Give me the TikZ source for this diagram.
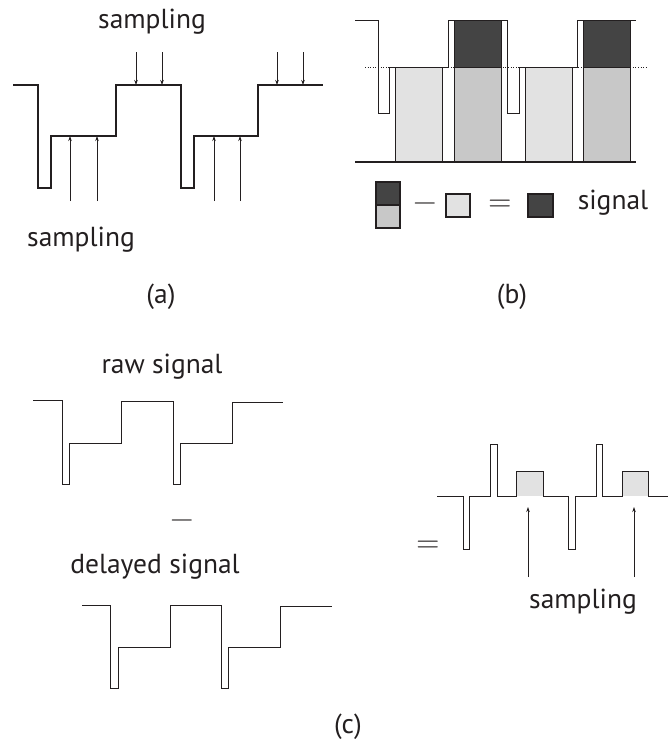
\documentclass[tikz,border=0pt]{standalone}
\usepackage{fontspec}
\setmainfont{PT Sans}
\newfontfamily\opfont{Latin Modern Roman}
\usetikzlibrary{arrows.meta}

\definecolor{ink}{HTML}{231F20}
\definecolor{darkbox}{HTML}{444444}
\definecolor{midbox}{HTML}{C8C8C8}
\definecolor{lightbox}{HTML}{E2E2E2}

\begin{document}
\begin{tikzpicture}[x=1pt, y=-1pt,
  wave/.style={draw=ink, line width=1.4pt, line join=miter},
  thinwave/.style={draw=ink, line width=1.0pt, line join=miter},
  probe/.style={draw=ink, line width=0.7pt, -{Stealth[length=5pt, width=3.5pt]}},
  bin/.style={draw=ink, line width=0.8pt},
  lbl/.style={font=\fontsize{27.5}{32}\selectfont, text=ink, inner sep=0pt},
  op/.style={font=\opfont\fontsize{32}{36}\selectfont, text=ink, inner sep=0pt},
]
  \useasboundingbox (0,0) rectangle (668,740);

  % (a) waveform with the sampling points
  \draw[wave] (13,85) -| (38,188) -| (51,136) -| (116,85) -| (181,188) -| (194,136) -| (258,85) -- (323,85);
  \foreach \x in {136,162,277,303}
    \draw[probe] (\x,52) -- (\x,85);
  \foreach \x in {70,97,214,240}
    \draw[probe] (\x,201) -- (\x,136);
  \node[lbl] (samptop) at (152,22)  {sampling};
  \node[lbl] (sampbot) at (81,240)  {sampling};
  \node[lbl] (capa)    at (161,297) {(a)};

  % (b) integration windows
  \draw[ink, line width=0.6pt, dotted] (365,67) -- (647,67);
  \filldraw[bin, fill=lightbox] (395,67) rectangle (442,162);
  \filldraw[bin, fill=midbox]   (454,67) rectangle (501,162);
  \filldraw[bin, fill=darkbox]  (454,20) rectangle (501,67);
  \filldraw[bin, fill=lightbox] (525,67) rectangle (572,162);
  \filldraw[bin, fill=midbox]   (583,67) rectangle (630,162);
  \filldraw[bin, fill=darkbox]  (583,20) rectangle (630,67);
  \draw[thinwave] (355,20) -| (378,113) -| (389,67) -| (448,20) -| (507,113) -| (519,67) -| (577,20) -- (636,20);
  \draw[ink, line width=1.8pt] (355,162) -- (636,162);

  % legend
  \filldraw[draw=ink, line width=1.2pt, fill=darkbox] (376,182) rectangle (400,205);
  \filldraw[draw=ink, line width=1.2pt, fill=midbox]  (376,205) rectangle (400,228);
  \node[op] (legminus) at (425,207) {−};
  \filldraw[draw=ink, line width=1.2pt, fill=lightbox] (446,194) rectangle (470,217);
  \node[op] (legeq) at (500,206) {=};
  \filldraw[draw=ink, line width=1.2pt, fill=darkbox] (528,194) rectangle (553,217);
  \node[lbl] (legsig) at (613,203) {signal};
  \node[lbl] (capb)   at (512,297) {(b)};

  % (c) raw minus delayed
  \node[lbl] (raw) at (162,367) {raw signal};
  \draw[thinwave] (33,400) -| (62,484) -| (69,443) -| (121,401) -| (173,484) -| (180,443) -| (232,402) -- (283,402);
  \node[op] (cminus) at (182,524) {−};
  \node[lbl] (delayed) at (155,567) {delayed signal};
  \draw[thinwave] (82,605) -| (110,688) -| (118,647) -| (170,605) -| (221,688) -| (228,647) -| (280,606) -- (332,606);
  \node[op] (ceq) at (428,547) {=};

  % difference
  \fill[lightbox] (516,471) rectangle (543,496);
  \fill[lightbox] (622,471) rectangle (648,496);
  \draw[thinwave] (437,496) -| (463,549) -| (469,496) -| (490,444) -| (497,496) -| (516,471) -| (543,496)
    -| (568,549) -| (575,496) -| (596,444) -| (602,496) -| (622,471) -| (648,496) -- (668,496);
  \foreach \x in {528,634}
    \draw[probe] (\x,577) -- (\x,507);
  \node[lbl] (sampc) at (583,602) {sampling};
  \node[lbl] (capc)  at (348,727) {(c)};
\end{tikzpicture}
\end{document}
